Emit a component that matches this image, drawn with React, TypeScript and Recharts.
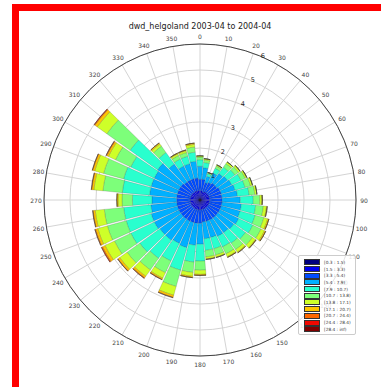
import { RadialBarChart, RadialBar, PolarAngleAxis, PolarRadiusAxis, PolarGrid } from "recharts";

const TITLE = "dwd_helgoland 2003-04 to 2004-04";

const DIRECTIONS = [
  0, 10, 20, 30, 40, 50, 60, 70, 80, 90, 100, 110, 120, 130, 140, 150, 160, 170,
  180, 190, 200, 210, 220, 230, 240, 250, 260, 270, 280, 290, 300, 310, 320, 330, 340, 350,
];

const SPEED_BINS = [
  "[0.3 : 1.5)", "[1.5 : 3.3)", "[3.3 : 5.4)", "[5.4 : 7.9)", "[7.9 : 10.7)", "[10.7 : 13.8)",
  "[13.8 : 17.1)", "[17.1 : 20.7)", "[20.7 : 24.4)", "[24.4 : 28.4)", "[28.4 : inf)",
];

const BIN_COLORS = [
  "#00007f", "#0000f1", "#004cff", "#00b0ff", "#29ffce", "#7dff7a",
  "#ceff29", "#ffc400", "#ff6800", "#f10800", "#7f0000",
];

const RADIUS_TICKS = [0, 1, 2, 3, 4, 5, 6];

// frequency (%) per direction, one list per speed bin
const BIN_0 = [
  0.06, 0.06, 0.05, 0.06, 0.06, 0.06, 0.06, 0.06, 0.06, 0.06, 0.06, 0.06, 0.06, 0.06, 0.06, 0.06, 0.06, 0.06,
  0.06, 0.06, 0.06, 0.06, 0.06, 0.06, 0.06, 0.06, 0.06, 0.06, 0.06, 0.06, 0.06, 0.06, 0.06, 0.06, 0.06, 0.06,
];
const BIN_1 = [
  0.3, 0.3, 0.27, 0.29, 0.3, 0.3, 0.31, 0.31, 0.31, 0.31, 0.31, 0.31, 0.31, 0.31, 0.31, 0.31, 0.31, 0.31,
  0.32, 0.32, 0.32, 0.32, 0.32, 0.32, 0.32, 0.32, 0.32, 0.32, 0.32, 0.32, 0.32, 0.32, 0.31, 0.31, 0.31, 0.31,
];
const BIN_2 = [
  0.44, 0.44, 0.38, 0.4, 0.44, 0.44, 0.48, 0.48, 0.48, 0.48, 0.48, 0.48, 0.48, 0.48, 0.48, 0.48, 0.48, 0.48,
  0.52, 0.52, 0.52, 0.52, 0.52, 0.52, 0.52, 0.52, 0.52, 0.52, 0.52, 0.52, 0.52, 0.52, 0.48, 0.48, 0.48, 0.48,
];
const BIN_3 = [
  0.5, 0.45, 0.25, 0.4, 0.45, 0.5, 0.5, 0.55, 0.6, 0.7, 0.75, 0.75, 0.8, 0.75, 0.7, 0.7, 0.65, 0.65,
  0.8, 0.85, 1.0, 0.95, 1.0, 1.0, 1.05, 1.05, 1.0, 0.95, 1.05, 1.05, 1.05, 1.1, 0.85, 0.6, 0.6, 0.65,
];
const BIN_4 = [
  0.25, 0.2, 0.1, 0.2, 0.3, 0.35, 0.4, 0.4, 0.45, 0.5, 0.55, 0.6, 0.6, 0.55, 0.5, 0.45, 0.45, 0.45,
  0.65, 0.65, 0.9, 0.75, 0.85, 0.95, 1.0, 1.0, 1.05, 0.75, 1.05, 1.1, 1.0, 1.3, 0.55, 0.3, 0.3, 0.35,
];
const BIN_5 = [
  0.1, 0.1, 0.05, 0.1, 0.17, 0.17, 0.18, 0.22, 0.22, 0.25, 0.3, 0.35, 0.35, 0.33, 0.3, 0.3, 0.25, 0.25,
  0.35, 0.4, 0.65, 0.5, 0.55, 0.6, 0.7, 0.75, 0.75, 0.4, 0.75, 0.8, 0.65, 1.1, 0.3, 0.15, 0.15, 0.2,
];
const BIN_6 = [
  0.05, 0.05, 0, 0.05, 0.08, 0.08, 0.07, 0.08, 0.08, 0.08, 0.12, 0.15, 0.15, 0.14, 0.12, 0.12, 0.08, 0.08,
  0.16, 0.15, 0.35, 0.23, 0.3, 0.35, 0.4, 0.38, 0.35, 0.15, 0.35, 0.35, 0.3, 0.45, 0.1, 0.07, 0.07, 0.1,
];
const BIN_7 = [
  0, 0, 0, 0, 0, 0, 0, 0, 0, 0.02, 0.03, 0.05, 0.05, 0.03, 0.03, 0.03, 0.02, 0.02,
  0.04, 0.05, 0.08, 0.05, 0.07, 0.08, 0.11, 0.09, 0.08, 0.05, 0.08, 0.08, 0.07, 0.11, 0.05, 0.03, 0.03, 0.05,
];
const BIN_8 = [
  0, 0, 0, 0, 0, 0, 0, 0, 0, 0, 0, 0, 0, 0, 0, 0, 0, 0,
  0, 0, 0.02, 0.02, 0.03, 0.02, 0.04, 0.03, 0.02, 0, 0.02, 0.02, 0.03, 0.03, 0, 0, 0, 0,
];
const BIN_9 = [
  0, 0, 0, 0, 0, 0, 0, 0, 0, 0, 0, 0, 0, 0, 0, 0, 0, 0,
  0, 0, 0, 0, 0, 0, 0.01, 0, 0, 0, 0, 0, 0, 0.01, 0, 0, 0, 0,
];
const BIN_10 = [
  0, 0, 0, 0, 0, 0, 0, 0, 0, 0, 0, 0, 0, 0, 0, 0, 0, 0,
  0, 0, 0, 0, 0, 0, 0, 0, 0, 0, 0, 0, 0, 0, 0, 0, 0, 0,
];

const BINS = [BIN_0, BIN_1, BIN_2, BIN_3, BIN_4, BIN_5, BIN_6, BIN_7, BIN_8, BIN_9, BIN_10];

const data = DIRECTIONS.map((dir, i) => {
  const row: Record<string, number> = { dir };
  BINS.forEach((bin, b) => {
    row[`b${b}`] = bin[i];
  });
  return row;
});

const FONT = "DejaVu Sans, sans-serif";

// matplotlib centres theta labels on a circle just outside the spine
function AngleTick(props: any) {
  const { x, y, payload } = props;
  return (
    <text x={x} y={y} textAnchor="middle" dominantBaseline="central" fontSize={6} fill="#444" fontFamily={FONT}>
      {payload.value}
    </text>
  );
}

function RadiusTick(props: any) {
  const { x, y, payload } = props;
  if (payload.value === 0) return <g />;
  return (
    <text x={x + 3} y={y} textAnchor="middle" dominantBaseline="central" fontSize={6.5} fill="#222" fontFamily={FONT}>
      {payload.value}
    </text>
  );
}

export default function App() {
  return (
    <div style={{ position: "absolute", left: 0, top: 0, width: 381, height: 387, overflow: "hidden", background: "#fff" }}>
      <div
        style={{
          position: "absolute",
          left: 12,
          top: 4,
          width: 400,
          height: 377,
          border: "7px solid #ff0000",
        }}
      />
      <div
        style={{
          position: "absolute",
          left: 0,
          top: 22,
          width: 400,
          textAlign: "center",
          fontFamily: FONT,
          fontSize: 8,
          color: "#222",
        }}
      >
        {TITLE}
      </div>
      <div style={{ position: "absolute", left: 0, top: 0 }}>
        <RadialBarChart
          width={381}
          height={387}
          data={data}
          layout="centric"
          cx={200}
          cy={200}
          innerRadius={0}
          outerRadius={156}
          startAngle={90}
          endAngle={-270}
          barCategoryGap="6%"
          margin={{ top: 0, right: 0, bottom: 0, left: 0 }}
        >
          <PolarGrid gridType="circle" stroke="#d4d4d4" />
          <PolarAngleAxis
            dataKey="dir"
            type="number"
            domain={[0, 360]}
            ticks={DIRECTIONS}
            axisLineType="circle"
            axisLine={{ stroke: "#444" }}
            tickLine={false}
            tickSize={8}
            tick={<AngleTick />}
          />
          <PolarRadiusAxis
            type="number"
            domain={[0, 6]}
            ticks={RADIUS_TICKS}
            angle={67.5}
            axisLine={false}
            tickLine={false}
            tick={<RadiusTick />}
          />
          {BINS.map((_, b) => (
            <RadialBar
              key={b}
              dataKey={`b${b}`}
              stackId="wind"
              fill={BIN_COLORS[b]}
              stroke="rgba(40,40,40,0.35)"
              strokeWidth={0.5}
              isAnimationActive={false}
            />
          ))}
        </RadialBarChart>
      </div>
      <div
        style={{
          position: "absolute",
          left: 298,
          top: 255,
          width: 58,
          height: 80,
          padding: "3px 0 0 5px",
          boxSizing: "border-box",
          overflow: "hidden",
          background: "rgba(255,255,255,0.85)",
          border: "0.5px solid #ccc",
          borderRadius: 2,
          fontFamily: FONT,
          fontSize: 4.3,
          color: "#333",
        }}
      >
        {SPEED_BINS.map((label, b) => (
          <div key={label} style={{ display: "flex", alignItems: "center", height: 6.7, overflow: "hidden" }}>
            <span style={{ width: 14, height: 4, flexShrink: 0, background: BIN_COLORS[b], border: "0.5px solid #333", marginRight: 4 }} />
            <span style={{ lineHeight: "5px", whiteSpace: "nowrap" }}>{label}</span>
          </div>
        ))}
      </div>
    </div>
  );
}
